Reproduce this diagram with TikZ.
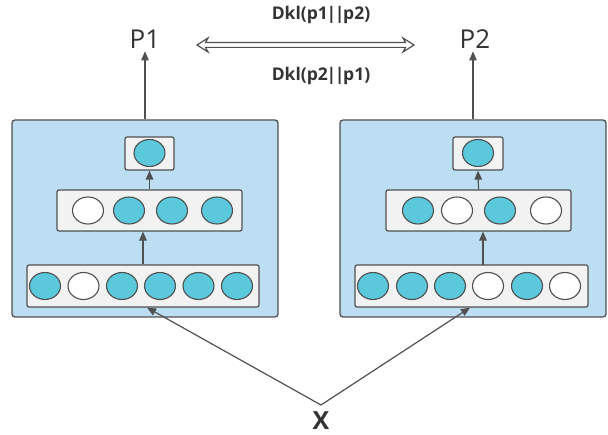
\documentclass[tikz,border=0pt]{standalone}
\usepackage{fontspec}
\setmainfont{Open Sans}
\usetikzlibrary{arrows.meta,shapes.geometric,calc}
\definecolor{bigfill}{HTML}{BDDDF2}
\definecolor{edge}{HTML}{505050}
\definecolor{innerfill}{HTML}{F2F2F2}
\definecolor{cyanfill}{HTML}{5BC8DB}
\definecolor{txt}{HTML}{333333}
\newcommand{\bars}{\kern-1.2pt|\kern-1.6pt|\kern-1.2pt}
\tikzset{
  bigbox/.style={draw=edge, fill=bigfill, line width=1.3pt, rounded corners=3pt,
    minimum width=266pt, minimum height=197pt, inner sep=0pt},
  layerbox/.style={draw=edge, fill=innerfill, line width=1.2pt, rounded corners=2pt,
    inner sep=0pt},
  unitfull/.style={ellipse, draw=edge, fill=cyanfill, line width=1.1pt,
    minimum width=31pt, minimum height=27pt, inner sep=0pt},
  unitempty/.style={unitfull, fill=white},
  arr/.style={draw=edge, line width=1.2pt, -{Triangle[length=9pt,width=7.5pt]}},
  hollowarrow/.style={draw=edge, fill=white, line width=1.2pt, line join=miter},
  plabel/.style={text=txt, font=\fontsize{26}{30}\selectfont, inner sep=0pt, outer sep=3pt},
  kllabel/.style={text=txt, font=\bfseries\fontsize{17.5}{20}\selectfont, inner sep=0pt},
  xlabel/.style={text=txt, font=\bfseries\fontsize{25}{28}\selectfont, inner sep=0pt},
}
\begin{document}
\begin{tikzpicture}[x=1pt,y=-1pt]
\useasboundingbox (0,0) rectangle (608,435);

% big boxes
\node[bigbox] (lbox) at (145,218.5) {};
\node[bigbox] (rbox) at (473,218.5) {};

% left network
\node[layerbox, minimum width=49pt, minimum height=33pt] (ltop) at (149.5,153.5) {};
\node[layerbox, minimum width=185pt, minimum height=41pt] (lmid) at (149.5,210.5) {};
\node[layerbox, minimum width=232pt, minimum height=42pt] (lbot) at (143,286) {};
\node[unitfull] (lt1) at (149.5,153) {};
\node[unitempty] (lm1) at (88,210.5) {};
\node[unitfull] (lm2) at (129,210.5) {};
\node[unitfull] (lm3) at (172,210.5) {};
\node[unitfull] (lm4) at (217,210.5) {};
\node[unitfull] (lb1) at (45,286) {};
\node[unitempty] (lb2) at (83.5,286) {};
\node[unitfull] (lb3) at (122,286) {};
\node[unitfull] (lb4) at (160,286) {};
\node[unitfull] (lb5) at (198.5,286) {};
\node[unitfull] (lb6) at (237,286) {};

% right network
\node[layerbox, minimum width=50pt, minimum height=33pt] (rtop) at (478,153.5) {};
\node[layerbox, minimum width=185pt, minimum height=41pt] (rmid) at (478.5,210.5) {};
\node[layerbox, minimum width=233pt, minimum height=42pt] (rbot) at (471.5,286) {};
\node[unitfull] (rt1) at (478,153) {};
\node[unitfull] (rm1) at (418,210.5) {};
\node[unitempty] (rm2) at (457,210.5) {};
\node[unitfull] (rm3) at (500,210.5) {};
\node[unitempty] (rm4) at (546,210.5) {};
\node[unitfull] (rb1) at (373,286) {};
\node[unitfull] (rb2) at (412,286) {};
\node[unitfull] (rb3) at (450,286) {};
\node[unitempty] (rb4) at (488,286) {};
\node[unitfull] (rb5) at (527,286) {};
\node[unitempty] (rb6) at (565,286) {};

% inner arrows
\draw[arr] (lbot.north) -- (lbot.north |- lmid.south);
\draw[arr] (lmid.north) -- (ltop.south);
\coordinate (rup) at (483,265);
\draw[arr] (rup) -- (rup |- rmid.south);
\draw[arr] (rmid.north) -- (rtop.south);

% outputs
\node[plabel] (p1) at (145,39) {P1};
\node[plabel] (p2) at (475,39) {P2};
\draw[arr] (lbox.north) -- (p1.south -| lbox.north);
\draw[arr] (rbox.north) -- (p2.south -| rbox.north);

% KL labels and double arrow
\node[kllabel] (kl1) at (321,15) {Dkl(p1\bars p2)};
\node[kllabel] (kl2) at (321,76) {Dkl(p2\bars p1)};
\coordinate (dl) at (197,45);
\coordinate (dr) at (414,45);
\draw[hollowarrow] (dl) -- ($(dl)+(11,-7)$) -- ($(dl)+(8.5,-2.4)$)
  -- ($(dr)+(-8.5,-2.4)$) -- ($(dr)+(-11,-7)$) -- (dr)
  -- ($(dr)+(-11,7)$) -- ($(dr)+(-8.5,2.4)$)
  -- ($(dl)+(8.5,2.4)$) -- ($(dl)+(11,7)$) -- cycle;

% input
\node[xlabel] (x) at (321,421) {X};
\coordinate (xtop) at (321,405);
\draw[arr] (xtop) -- ([xshift=4pt]lbot.south);
\draw[arr] (xtop) -- ([xshift=-1.5pt]rbot.south);
\end{tikzpicture}
\end{document}
